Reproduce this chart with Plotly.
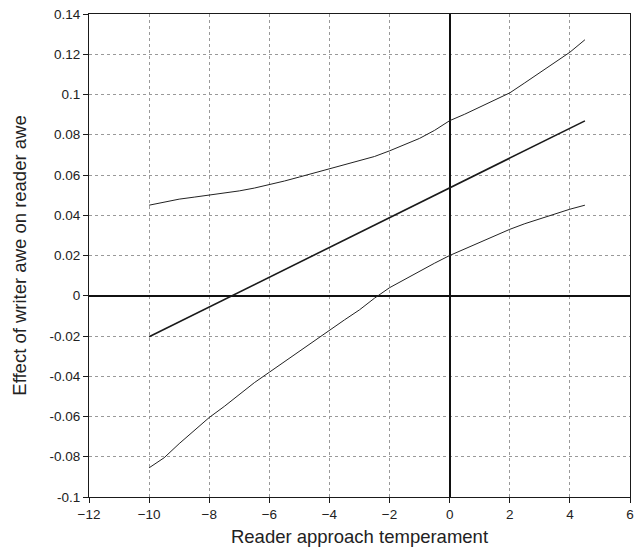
import plotly.graph_objects as go

# Moderator values (reader approach temperament)
x_vals = [-10, -9.5, -9, -8.5, -8, -7.5, -7, -6.5, -6, -5.5, -5, -4.5, -4, -3.5, -3,
          -2.5, -2, -1.5, -1, -0.5, 0, 0.5, 1, 1.5, 2, 2.5, 3, 3.5, 4, 4.5]

# Conditional effect of writer awe on reader awe
effect = [-0.0204, -0.0167, -0.0130, -0.0093, -0.0056, -0.0019, 0.0018, 0.0055, 0.0092,
          0.0129, 0.0166, 0.0203, 0.0240, 0.0277, 0.0314, 0.0351, 0.0388, 0.0425, 0.0462,
          0.0499, 0.0536, 0.0573, 0.0610, 0.0647, 0.0684, 0.0721, 0.0758, 0.0795, 0.0832,
          0.0869]

# Upper confidence bound
upper = [0.0450, 0.0465, 0.0480, 0.0490, 0.0500, 0.0510, 0.0521, 0.0535, 0.0552, 0.0570,
         0.0590, 0.0610, 0.0630, 0.0650, 0.0670, 0.0692, 0.0720, 0.0750, 0.0782, 0.0822,
         0.0870, 0.0902, 0.0938, 0.0972, 0.1008, 0.1058, 0.1108, 0.1158, 0.1210, 0.1272]

# Lower confidence bound
lower = [-0.0855, -0.0805, -0.0735, -0.0670, -0.0605, -0.0550, -0.0490, -0.0432, -0.0380,
         -0.0328, -0.0272, -0.0222, -0.0170, -0.0120, -0.0070, -0.0012, 0.0040, 0.0082,
         0.0122, 0.0162, 0.0200, 0.0232, 0.0268, 0.0300, 0.0330, 0.0358, 0.0382, 0.0408,
         0.0430, 0.0450]

x_ticks = [-12, -10, -8, -6, -4, -2, 0, 2, 4, 6]
y_ticks = [-0.1, -0.08, -0.06, -0.04, -0.02, 0, 0.02, 0.04, 0.06, 0.08, 0.1, 0.12, 0.14]
y_tick_text = ["-0.1", "-0.08", "-0.06", "-0.04", "-0.02", "0", "0.02", "0.04", "0.06",
               "0.08", "0.1", "0.12", "0.14"]

FONT = "Liberation Sans, Arial, sans-serif"

fig = go.Figure()
fig.add_trace(go.Scatter(x=x_vals, y=upper, mode="lines",
                         line=dict(color="#222222", width=1)))
fig.add_trace(go.Scatter(x=x_vals, y=effect, mode="lines",
                         line=dict(color="#1a1a1a", width=1.6)))
fig.add_trace(go.Scatter(x=x_vals, y=lower, mode="lines",
                         line=dict(color="#222222", width=1)))

axis_common = dict(
    showline=True, linecolor="#1a1a1a", linewidth=1.2, mirror=True,
    ticks="outside", ticklen=5, tickcolor="#1a1a1a",
    showgrid=True, gridcolor="#999999", gridwidth=1, griddash="dot",
    zeroline=True, zerolinecolor="#111111", zerolinewidth=2,
    tickfont=dict(family=FONT, size=13.5, color="#222222"),
    automargin=False,
)

fig.update_layout(
    width=641, height=553,
    margin=dict(l=89, r=11, t=14, b=56),
    paper_bgcolor="white", plot_bgcolor="white",
    showlegend=False,
    xaxis=dict(range=[-12, 6], tickvals=x_ticks,
               title=dict(text="Reader approach temperament", standoff=8,
                          font=dict(family=FONT, size=18.5, color="#222222")),
               **axis_common),
    yaxis=dict(range=[-0.1, 0.14], tickvals=y_ticks, ticktext=y_tick_text,
               title=dict(text="Effect of writer awe on reader awe", standoff=17,
                          font=dict(family=FONT, size=18.5, color="#222222")),
               **axis_common),
)

fig.write_html("out.html")
